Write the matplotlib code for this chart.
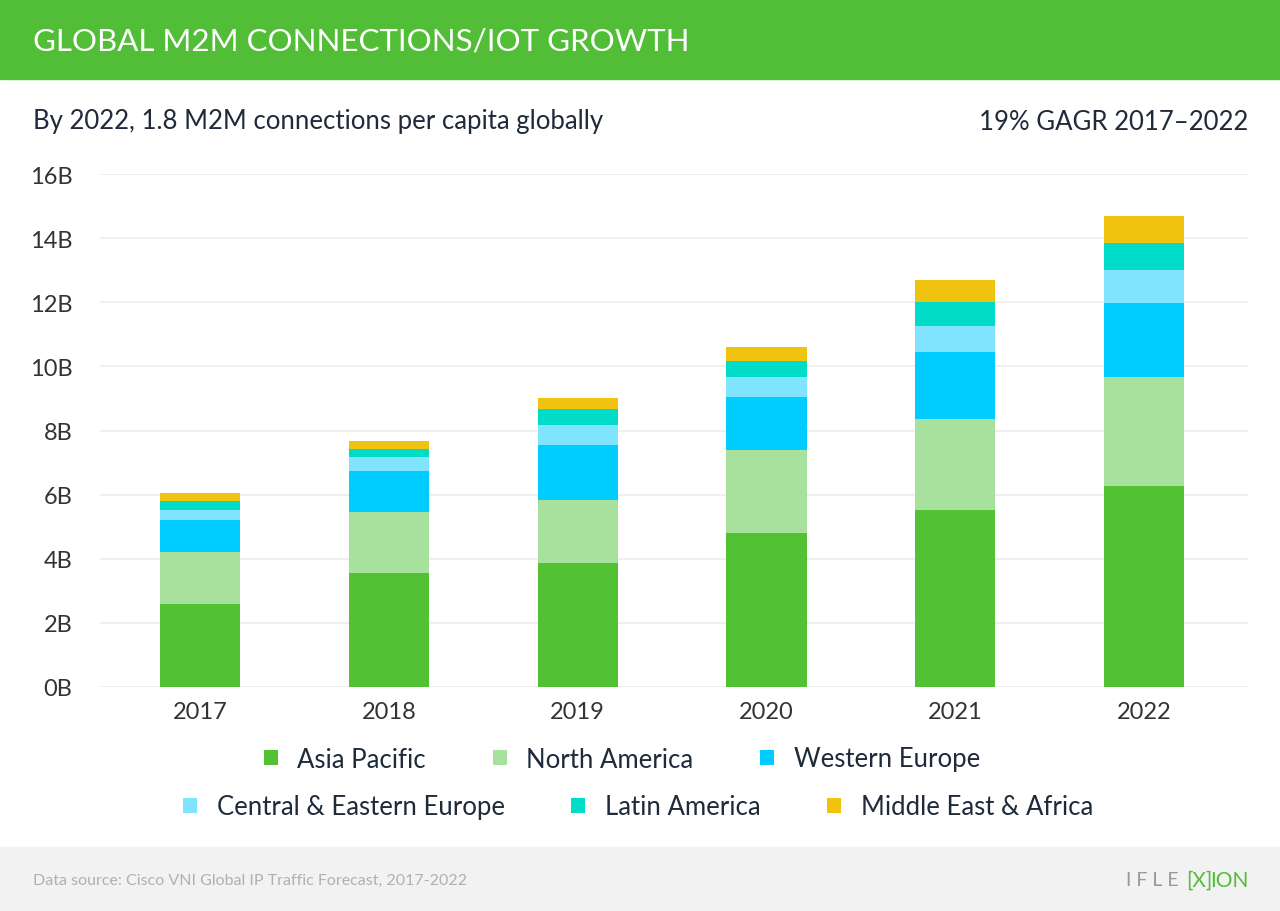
import numpy as np
import matplotlib.pyplot as plt
from matplotlib.patches import Rectangle

years = ['2017', '2018', '2019', '2020', '2021', '2022']
regions = ['Asia Pacific', 'North America', 'Western Europe',
           'Central & Eastern Europe', 'Latin America', 'Middle East & Africa']

# billions of connections
asia_pacific = [2.59, 3.55, 3.86, 4.81, 5.51, 6.27]
north_america = [1.62, 1.90, 1.98, 2.57, 2.84, 3.39]
western_europe = [0.99, 1.30, 1.71, 1.68, 2.11, 2.31]
central_eastern_europe = [0.31, 0.41, 0.61, 0.60, 0.80, 1.04]
latin_america = [0.29, 0.25, 0.50, 0.50, 0.74, 0.84]
middle_east_africa = [0.25, 0.25, 0.34, 0.43, 0.70, 0.85]

y_ticks = [0, 2, 4, 6, 8, 10, 12, 14, 16]
y_labels = ['0B', '2B', '4B', '6B', '8B', '10B', '12B', '14B', '16B']

series = [asia_pacific, north_america, western_europe,
          central_eastern_europe, latin_america, middle_east_africa]
colors = ['#52c234', '#a8e09e', '#00ccff', '#80e4ff', '#00dcc8', '#f0c30f']

plt.rcParams['font.family'] = ['Lato', 'DejaVu Sans']

fig = plt.figure(figsize=(12.8, 9.12), dpi=100)
W, H = 1280, 912

# header band
fig.patches.append(Rectangle((0, 1 - 80 / H), 1, 80 / H, transform=fig.transFigure,
                             color='#52be38', zorder=0))
fig.text(33 / W, 1 - 41 / H, 'GLOBAL M2M CONNECTIONS/IOT GROWTH', color='white',
         fontsize=22.5, va='center', ha='left')

# footer band
fig.patches.append(Rectangle((0, 0), 1, 64 / H, transform=fig.transFigure,
                             color='#f2f2f2', zorder=0))
fig.text(33 / W, 31 / H, 'Data source: Cisco VNI Global IP Traffic Forecast, 2017-2022',
         color='#b0b0b0', fontsize=11.5, va='center', ha='left')
# logo, drawn as text
fig.text(1179 / W, 31 / H, 'I F L E', color='#9a9a9a', fontsize=14, va='center', ha='right')
fig.text(1199 / W, 31 / H, '[X]', color='#52be38', fontsize=15, va='center', ha='center')
fig.text(1249 / W, 31 / H, 'ION', color='#52be38', fontsize=15, va='center', ha='right')

fig.text(33 / W, 1 - 122 / H, 'By 2022, 1.8 M2M connections per capita globally',
         color='#1f2a3a', fontsize=18.5, va='center', ha='left')
fig.text(1248 / W, 1 - 122 / H, '19% GAGR 2017\u20132022',
         color='#1f2a3a', fontsize=18.5, va='center', ha='right')

ax = fig.add_axes([100 / W, 224 / H, 1148 / W, 513 / H])
x = np.arange(len(years))
bottom = np.zeros(len(years))
handles = []
for vals, col, name in zip(series, colors, regions):
    b = ax.bar(x, vals, width=0.424, bottom=bottom, color=col, label=name, zorder=3)
    handles.append(b)
    bottom += np.array(vals)

ax.set_xlim(-0.53, 5.55)
ax.set_ylim(0, 16)
ax.set_yticks(y_ticks)
ax.set_yticklabels(y_labels)
ax.set_xticks(x)
ax.set_xticklabels(years)
ax.tick_params(axis='both', length=0, labelsize=17, labelcolor='#333333')
ax.tick_params(axis='y', pad=20)
ax.tick_params(axis='x', pad=10)
ax.grid(axis='y', color='#eeeeee', linewidth=1.3, zorder=0)
for s in ax.spines.values():
    s.set_visible(False)

leg_kw = dict(ncol=3, frameon=False, fontsize=18.5, handlelength=0.55, handleheight=0.55,
              handletextpad=0.75, columnspacing=2.6, labelcolor='#1f2a3a')
leg1 = fig.legend(handles[:3], regions[:3], loc='center', bbox_to_anchor=(622 / W, 1 - 760 / H), **leg_kw)
leg2 = fig.legend(handles[3:], regions[3:], loc='center', bbox_to_anchor=(638 / W, 1 - 808 / H), **leg_kw)

fig.savefig('out.png', dpi=100)
